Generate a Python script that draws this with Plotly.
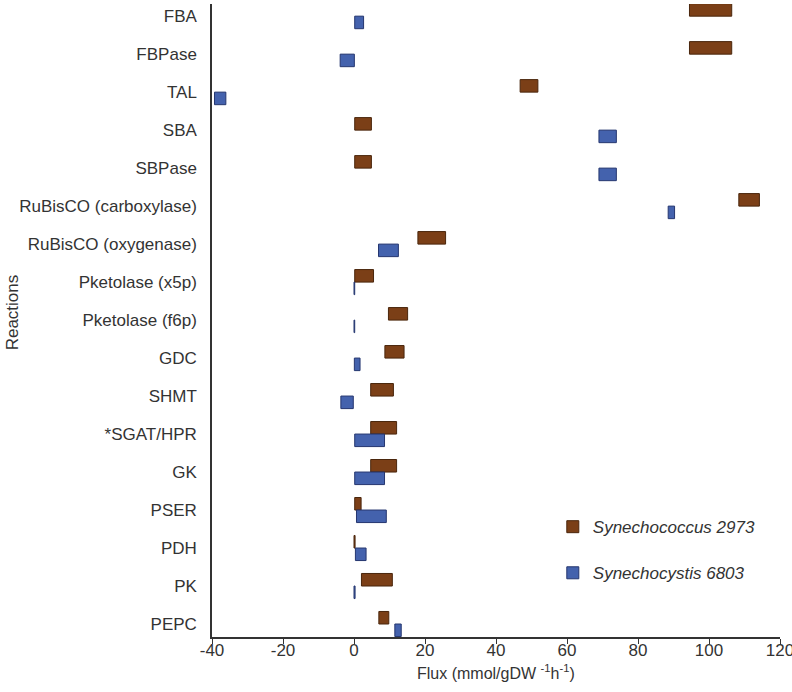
import plotly.graph_objects as go

categories = ["FBA", "FBPase", "TAL", "SBA", "SBPase", "RuBisCO (carboxylase)",
              "RuBisCO (oxygenase)", "Pketolase (x5p)", "Pketolase (f6p)", "GDC",
              "SHMT", "*SGAT/HPR", "GK", "PSER", "PDH", "PK", "PEPC"]

syn2973_min = [94.5, 94.5, 46.8, 0.2, 0.2, 108.4, 18.0, 0.2, 9.7, 8.7, 4.7, 4.7, 4.7, 0.2, 0.0, 2.1, 7.0]
syn2973_max = [106.4, 106.4, 51.8, 4.9, 4.9, 114.2, 25.8, 5.5, 15.1, 14.1, 11.1, 12.0, 12.0, 2.0, 0.3, 10.8, 9.8]

syn6803_min = [0.2, -3.9, -39.3, 69.0, 69.0, 88.5, 6.9, 0.0, 0.0, 0.1, -3.7, 0.2, 0.2, 0.7, 0.4, 0.0, 11.5]
syn6803_max = [2.7, 0.1, -36.1, 73.9, 73.9, 90.3, 12.5, 0.2, 0.2, 1.7, -0.2, 8.6, 8.6, 9.1, 3.4, 0.3, 13.3]

x_ticks = [-40, -20, 0, 20, 40, 60, 80, 100, 120]

series = [
    ("Synechococcus 2973", syn2973_min, syn2973_max, "#7b3f17", "#4a260c"),
    ("Synechocystis 6803", syn6803_min, syn6803_max, "#4462ad", "#25366f"),
]

fig = go.Figure()
for i, (name, lo, hi, col, lcol) in enumerate(series):
    fig.add_trace(go.Bar(
        y=categories,
        x=[h - l for l, h in zip(lo, hi)],
        base=lo,
        orientation="h",
        name=f"<i>{name}</i>",
        legendgroup=f"g{i}",
        marker=dict(color=col, line=dict(color=lcol, width=1)),
    ))

fig.update_layout(
    width=792, height=692,
    margin=dict(l=212, r=12, t=4, b=55),
    paper_bgcolor="white", plot_bgcolor="white",
    barmode="group", bargap=0.34, bargroupgap=0,
    font=dict(family="Liberation Sans, Arial, sans-serif", size=17, color="#333333"),
    showlegend=True,
    legend=dict(x=0.60, y=0.202, xanchor="left", yanchor="top",
                traceorder="grouped", tracegroupgap=21,
                font=dict(size=17, color="#333333"),
                bgcolor="rgba(0,0,0,0)"),
    xaxis=dict(range=[-40, 120], tickvals=x_ticks, ticktext=[str(t) for t in x_ticks],
               showgrid=False, zeroline=False, showline=True, linecolor="#333333",
               linewidth=1.5, ticks="outside", ticklen=5, tickcolor="#333333",
               tickfont=dict(size=17), automargin=False, ticklabeloverflow="allow",
               ticklabelstandoff=-8),
    yaxis=dict(type="category", categoryorder="array", categoryarray=categories,
               range=[16.342, -0.32], showgrid=False, zeroline=False,
               showline=True, linecolor="#333333", linewidth=1.5, ticks="",
               tickfont=dict(size=17), ticklabelstandoff=10, automargin=False),
    annotations=[
        dict(text="Flux (mmol/gDW <sup>-1</sup>h<sup>-1</sup>)", xref="paper", yref="paper",
             x=0.5, y=-0.056, xanchor="center", yanchor="middle", showarrow=False,
             font=dict(size=16, color="#333333")),
        dict(text="Reactions", xref="paper", yref="paper", textangle=-90,
             x=-0.352, y=0.513, xanchor="center", yanchor="middle", showarrow=False,
             font=dict(size=17, color="#333333")),
    ],
)

fig.write_html("out.html", config={"displayModeBar": False},
               post_script="document.body.style.margin='0px';")
